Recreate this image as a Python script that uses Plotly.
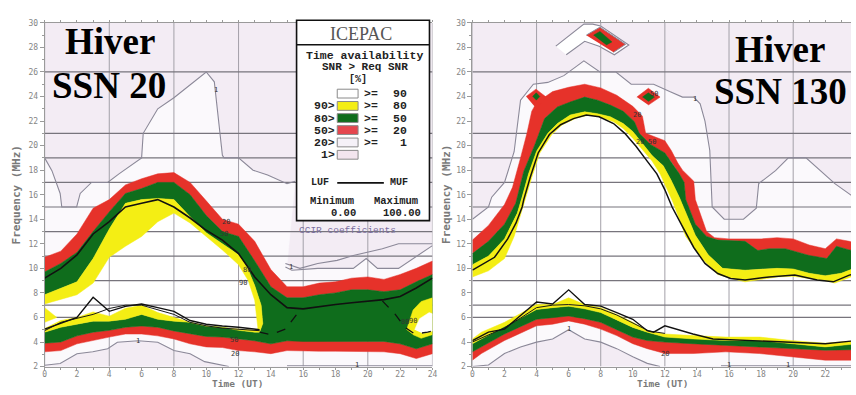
import plotly.graph_objects as go

# ---------------- shared axis data ----------------
HOURS = list(range(25))
GRID_X = [0, 4, 8, 12, 16, 20, 24]
GRID_Y = [6, 7, 9, 11, 13, 15, 17, 19, 21, 26]
X_TICKS = list(range(0, 25, 2))
Y_TICKS = list(range(2, 31, 2))

# ---------------- left chart : Hiver SSN 20 ----------------
L_R20_LO = [3.2, 3.3, 3.85, 4.15, 4.4, 4.65, 4.65, 4.5, 4.25, 3.85, 3.6, 3.55, 3.3, 3.2, 3.05, 3.3, 3.25, 3.25, 3.25, 3.25, 3.25, 3.2, 3.05, 2.65, 3.05]
L_G50_LO = [3.9, 4.0, 4.5, 4.8, 4.95, 5.2, 5.3, 5.2, 4.9, 4.65, 4.45, 4.4, 4.25, 4.1, 3.85, 4.1, 4.05, 4.05, 4.05, 4.05, 4.05, 4.05, 3.85, 3.45, 3.85]
L_G50_HI = [9.7, 10.4, 11.3, 13.0, 14.6, 16.1, 16.5, 17.0, 17.0, 16.0, 14.3, 13.0, 12.6, 10.6, 8.5, 7.6, 7.6, 7.85, 8.0, 8.25, 8.25, 8.1, 8.25, 8.9, 9.5]
L_R20_HI = [10.9, 11.4, 12.8, 14.9, 15.6, 16.8, 17.3, 17.7, 17.8, 17.0, 15.5, 14.0, 13.6, 12.2, 9.9, 8.5, 8.5, 8.8, 8.9, 9.2, 9.3, 9.1, 9.5, 10.0, 10.6]

L_Y80_X = [0, 1, 2, 3, 4, 5, 6, 7, 8, 9, 10, 11, 12, 12.5, 13, 13.4, 13.5, 13.3, 13, 12, 11, 10, 9, 8, 7, 6, 5, 4, 3, 2, 1, 0]
L_Y80_Y = [7.85, 8.4, 8.9, 10.8, 13.2, 15.3, 15.6, 15.7, 15.6, 14.2, 12.9, 12.0, 11.1, 10.2, 8.6, 7.0, 5.5, 4.8, 4.8, 4.95, 5.2, 5.3, 5.6, 5.7, 5.85, 6.25, 5.85, 5.7, 5.7, 5.45, 5.2, 4.8]
L_W90_X = [0, 1, 2, 3, 4, 5, 6, 7, 8, 9, 10, 11, 12, 12.6, 13.0, 13.2, 13.0, 12, 11, 10, 9, 8, 7, 6, 5, 4, 3, 2, 1, 0]
L_W90_Y = [7.1, 7.45, 7.85, 8.8, 10.9, 11.8, 12.6, 13.8, 14.5, 13.7, 12.6, 11.5, 10.3, 9.0, 7.4, 5.1, 4.95, 5.05, 5.15, 5.3, 5.6, 6.0, 6.4, 7.0, 6.75, 6.1, 6.45, 6.0, 5.75, 5.1]
L_WEDGE_X = [0, 0.75, 0]
L_WEDGE_Y = [5.6, 6.0, 6.8]
L_ISL_Y80_X = [22.4, 22.8, 23.3, 24, 24, 23.3, 22.8]
L_ISL_Y80_Y = [5.0, 6.6, 7.3, 7.6, 4.6, 4.3, 4.6]
L_ISL_W90_X = [22.9, 23.2, 23.8, 24, 24, 23.4]
L_ISL_W90_Y = [5.0, 5.9, 6.4, 6.3, 4.9, 4.7]

L_MUF = [9.2, 10.0, 11.1, 12.8, 13.8, 15.0, 15.3, 15.6, 15.0, 14.1, 13.1, 12.3, 11.2, 9.3, 7.85, 6.8, 6.7, 6.9, 7.05, 7.2, 7.3, 7.45, 7.7, 8.4, 9.2]
L_LUF_A_X = [0, 1, 2, 3, 4, 5, 6, 7, 8, 9, 10, 11, 12, 13.3]
L_LUF_A_Y = [5.05, 5.5, 6.0, 7.65, 6.5, 6.9, 7.1, 6.8, 6.5, 5.75, 5.45, 5.3, 5.2, 5.0]
L_LUF_B_X = [0, 1, 2, 3, 4, 5, 6, 7, 8, 9, 10, 11, 12, 13.3]
L_LUF_B_Y = [4.92, 5.6, 5.93, 6.25, 6.73, 7.0, 7.0, 6.65, 6.25, 5.6, 5.32, 5.13, 5.05, 4.92]
L_LUFD1_X = [13.3, 14.0, 14.9, 15.4, 15.9]
L_LUFD1_Y = [4.8, 4.6, 5.05, 5.95, 6.75]
L_LUFD2_X = [20.9, 21.7, 22.3, 22.9, 23.7, 24]
L_LUFD2_Y = [7.35, 6.25, 5.2, 4.65, 4.8, 4.9]

L_C1U_X = [0, 0.45, 0.96, 1.06, 1.98, 2.2, 2.9, 3.9, 4.6, 6.0, 6.1, 7.0, 8.0, 10.0, 10.5, 11.0, 11.1, 12.0, 12.9, 13.8, 15.0, 15.5]
L_C1U_Y = [19.0, 17.96, 16.1, 15.0, 15.0, 16.1, 17.0, 17.0, 17.7, 19.0, 21.0, 23.0, 23.9, 26.0, 25.2, 19.2, 19.0, 19.0, 18.0, 17.6, 16.9, 17.1]
L_C1L_X = [0, 0.96, 2.0, 2.98, 3.9, 4.5, 5.8, 7.0, 8.0, 9.0, 9.9, 10.9, 11.4]
L_C1L_Y = [2.1, 2.25, 3.05, 3.2, 3.45, 3.98, 4.1, 3.98, 3.3, 3.05, 2.4, 2.1, 2.0]
L_C1B_X = [15, 24]
L_C1B_Y = [2.07, 2.07]
L_C1R1_X = [14.9, 15.2, 15.8, 16.9, 18.1, 19.1, 19.9, 20.9, 21.9, 24]
L_C1R1_Y = [10.4, 10.25, 10.0, 10.4, 10.65, 11.05, 11.3, 11.6, 12.0, 12.0]
L_C1R2_X = [14.9, 15.3, 16.9, 19.1, 19.9, 20.6, 21.9, 24]
L_C1R2_Y = [10.1, 9.85, 10.0, 10.0, 10.8, 10.0, 10.0, 11.85]

L_LABELS = [("1", 10.6, 24.5), ("20", 11.2, 13.8), ("50", 11.1, 12.8), ("80", 12.5, 9.9),
            ("90", 12.3, 8.8), ("1", 5.75, 4.05), ("50", 11.7, 4.2), ("20", 11.8, 3.05),
            ("1", 15.25, 10.15), ("1", 19.3, 2.15), ("80", 22.3, 5.6), ("90", 22.8, 5.75)]

# ---------------- right chart : Hiver SSN 130 ----------------
R_R20_HI_X = [0, 1, 2, 2.5, 3, 3.4, 3.7, 4.0, 5, 6, 7, 8, 9, 10, 10.6, 10.8, 11.2, 12, 12.4, 12.8, 13.1, 13.8, 13.9, 14.6, 15.1, 16, 17, 18, 19, 20, 21, 22, 22.7, 23.5, 24]
R_R20_HI_Y = [12.3, 13.5, 15.2, 16.6, 19.0, 21.0, 22.8, 23.5, 24.4, 24.75, 25.0, 24.7, 24.1, 23.2, 22.4, 21.0, 20.8, 20.4, 19.6, 18.6, 18.0, 17.1, 15.6, 13.0, 12.5, 12.4, 12.4, 12.4, 12.5, 12.4, 11.9, 11.6, 12.4, 12.2, 12.0]
R_G50_HI_X = [0, 1, 2, 2.7, 3.2, 3.9, 4.5, 5.3, 6.1, 7, 7.8, 8.6, 9.4, 10.1, 10.4, 11.1, 12, 12.5, 12.9, 13.2, 13.3, 13.9, 14.6, 15.3, 17, 17.8, 18.5, 19.5, 21, 22.1, 22.7, 23.5, 24]
R_G50_HI_Y = [11.2, 12.2, 13.6, 15.3, 17.9, 20.1, 22.2, 23.15, 23.55, 23.95, 23.7, 23.3, 22.8, 21.95, 21.0, 20.1, 19.4, 18.5, 17.7, 17.0, 15.6, 13.6, 12.6, 12.3, 12.2, 11.45, 11.6, 11.6, 11.05, 10.8, 11.8, 11.5, 11.4]
R_Y80_HI_X = [0, 1, 2, 2.8, 3.1, 3.5, 4, 4.7, 5.3, 6.1, 7, 7.8, 8.6, 9.4, 10, 10.6, 11.2, 11.9, 12.4, 12.9, 13.3, 13.9, 14.7, 15.6, 17, 18, 19, 20, 21, 22, 23, 24]
R_Y80_HI_Y = [10.3, 11.0, 12.4, 14.5, 15.8, 17.7, 19.55, 21.0, 21.8, 22.5, 22.75, 22.6, 22.35, 21.8, 21.15, 20.2, 19.2, 18.35, 17.15, 15.8, 14.6, 12.7, 11.1, 10.0, 9.85, 9.95, 10.0, 9.95, 9.6, 9.4, 9.6, 10.1]
R_W90_HI_X = [0, 1, 2, 2.6, 3.0, 3.3, 3.7, 4.2, 4.95, 5.6, 6.5, 7.3, 7.9, 8.8, 9.4, 10, 10.6, 11.2, 11.7, 12.1, 12.5, 13.3, 14.35, 15.3, 16.4, 17, 18, 19, 20, 21, 22, 22.6, 23.6, 24]
R_W90_HI_Y = [9.3, 9.8, 10.8, 12.6, 14.2, 15.6, 17.4, 19.4, 20.9, 21.7, 22.25, 22.5, 22.35, 21.95, 21.4, 20.6, 19.7, 18.75, 17.7, 16.6, 15.4, 12.6, 10.75, 9.5, 9.1, 8.9, 9.1, 9.3, 9.35, 9.2, 9.0, 8.8, 9.3, 9.5]

R_LO_X = [0, 0.56, 2, 4, 5, 6, 7, 8, 9, 10, 10.9, 12, 13.75, 15.8, 17.9, 19.9, 22, 24]
R_R20_LO = [2.52, 3.06, 4.12, 5.32, 5.45, 5.72, 5.45, 5.05, 4.52, 3.86, 3.46, 3.06, 3.06, 3.2, 3.06, 2.8, 2.52, 2.52]
R_G50_LO = [3.2, 3.6, 4.65, 5.85, 6.0, 6.12, 5.9, 5.6, 5.0, 4.4, 4.12, 3.99, 3.86, 3.72, 3.6, 3.46, 3.33, 3.38]
R_Y80_LO = [3.86, 4.25, 5.32, 6.65, 6.8, 6.92, 6.7, 6.4, 5.8, 5.19, 4.8, 4.4, 4.25, 4.12, 4.12, 3.86, 3.6, 3.86]
R_W90_LO = [4.25, 4.8, 5.6, 7.05, 7.05, 7.6, 7.05, 6.8, 6.25, 5.6, 4.92, 4.65, 4.52, 4.4, 4.4, 4.12, 3.9, 4.12]

R_EAR_X = [3.35, 3.96, 4.6, 4.0]
R_EAR_Y = [24.0, 24.6, 23.95, 23.0]
R_EAR_IN_X = [3.75, 3.98, 4.2, 3.98]
R_EAR_IN_Y = [24.0, 24.3, 24.0, 23.7]
R_DIA2_X = [10.25, 10.97, 11.7, 10.97]
R_DIA2_Y = [23.95, 24.67, 23.95, 23.3]
R_DIA2_IN_X = [10.6, 10.97, 11.35, 10.97]
R_DIA2_IN_Y = [23.95, 24.3, 23.95, 23.6]
R_DIA1_X = [7.1, 7.95, 9.55, 8.8]
R_DIA1_Y = [29.0, 29.65, 28.25, 27.6]
R_DIA1_IN_X = [7.55, 7.95, 8.7, 8.35]
R_DIA1_IN_Y = [29.0, 29.3, 28.45, 28.2]
R_CHEV_X = [5.2, 6.95, 7.5, 8.0, 9.75, 8.85, 7.9, 7.0, 5.85]
R_CHEV_Y = [28.1, 29.9, 29.9, 29.75, 28.2, 27.4, 28.1, 28.5, 27.4]

R_MUF_X = [0, 0.56, 1.38, 2.2, 2.72, 3.1, 3.2, 3.6, 4.1, 4.8, 5.5, 6.3, 7.1, 7.9, 8.8, 9.5, 10.2, 10.8, 11.5, 12.0, 12.45, 13.1, 13.8, 14.5, 15.3, 16.1, 17, 18.5, 20.1, 21.5, 22.5, 23.5, 24]
R_MUF_Y = [9.85, 10.25, 10.9, 12.4, 13.7, 15.0, 15.6, 17.4, 19.4, 20.9, 21.7, 22.2, 22.5, 22.35, 21.8, 21.0, 19.95, 18.9, 17.7, 16.4, 15.0, 13.4, 11.7, 10.4, 9.58, 9.18, 9.05, 9.3, 9.45, 9.05, 8.9, 9.45, 9.6]
R_LUF_A_X = [0, 1, 2, 4, 5, 6, 7, 8, 9, 10, 10.9, 11.3, 12, 13.75, 15, 17.9, 19.9, 22, 24]
R_LUF_A_Y = [4.12, 4.8, 5.05, 7.26, 7.1, 8.25, 7.05, 6.92, 6.39, 5.85, 4.92, 4.8, 5.32, 4.65, 4.25, 4.07, 3.99, 3.86, 4.12]
R_LUF_B_X = [0, 1, 2, 3, 4, 5, 6, 7, 8, 9, 10, 11, 12]
R_LUF_B_Y = [4.0, 4.55, 5.15, 5.95, 6.8, 7.0, 7.05, 6.95, 6.7, 6.2, 5.55, 4.9, 4.7]

R_C1U_X = [0, 1.0, 1.2, 2.0, 2.6, 3.0, 3.8, 4.7, 5.7, 6.95, 7.95, 8.95, 9.9, 11.3, 12.3, 13.1, 13.8, 14.2, 14.5, 14.8, 14.95, 15.7, 16.9, 17.7, 17.85, 18.9, 19.7, 20.8, 22.6, 23.6, 24]
R_C1U_Y = [14.0, 15.0, 15.8, 17.0, 19.5, 23.7, 25.0, 25.15, 25.7, 26.9, 26.0, 26.0, 25.0, 25.0, 24.4, 23.95, 23.95, 23.4, 22.0, 19.6, 15.0, 14.0, 14.0, 14.9, 16.9, 17.96, 19.0, 19.0, 16.9, 16.0, 15.6]
R_C1L_X = [0, 1, 2, 3, 4, 5, 6, 7, 8, 9, 10, 10.9, 11.7]
R_C1L_Y = [2.0, 2.13, 3.06, 3.6, 3.99, 4.25, 5.0, 4.25, 3.99, 3.46, 2.8, 2.26, 2.0]
R_C1B_X = [15.5, 24]
R_C1B_Y = [2.07, 2.07]

R_LABELS = [("20", 10.25, 22.5), ("20", 10.45, 20.3), ("50", 11.2, 20.3), ("50", 11.3, 24.2),
            ("1", 13.9, 23.8), ("1", 6.0, 5.05), ("20", 12.0, 3.05), ("1", 16.0, 2.15), ("1", 19.7, 2.15)]

# legend content
LEG_LEFT = ["", "90>", "80>", "50>", "20>", "1>"]
LEG_RIGHT = ["90", "80", "50", "20", "1", ""]
LEG_MID = [">=", ">=", ">=", ">=", ">=", ""]

# ---------------- styles ----------------
BG = "#f3ecf4"
LIGHT = "#fbf9fc"
RED = "#e6322a"
GREEN = "#0f6d1c"
YELLOW = "#f4ee14"
GRAYLINE = "#8b8898"
W, H = 856, 395

fig = go.Figure()


def add_poly(xs, ys, fill, xa, ya, line=None, width=0.5):
    fig.add_trace(go.Scatter(x=list(xs), y=list(ys), xaxis=xa, yaxis=ya, fill="toself",
                             fillcolor=fill, mode="lines",
                             line=dict(color=line or fill, width=width),
                             hoverinfo="skip", showlegend=False))


def add_line(xs, ys, color, width, xa, ya, dash="solid"):
    fig.add_trace(go.Scatter(x=list(xs), y=list(ys), xaxis=xa, yaxis=ya, mode="lines",
                             line=dict(color=color, width=width, dash=dash),
                             hoverinfo="skip", showlegend=False))


def ring(xa_, ya_, xb_, yb_):
    return list(xa_) + list(xb_)[::-1], list(ya_) + list(yb_)[::-1]


def add_grid(xa, ya, xmax):
    gx, gy = [], []
    for g in GRID_X:
        gx += [g, g, None]
        gy += [2, 30, None]
    add_line(gx, gy, "#a3a0a8", 1, xa, ya)
    hx, hy = [], []
    for g in GRID_Y:
        hx += [0, xmax, None]
        hy += [g, g, None]
    add_line(hx, hy, "#77747c", 1.2, xa, ya)


# ======== LEFT CHART ========
xa, ya = "x", "y"
lx = L_C1U_X + [15.0] + L_C1R2_X[1:] + [24, 15] + L_C1L_X[::-1]
ly = L_C1U_Y + [10.3] + L_C1R2_Y[1:] + [2.07, 2.07] + L_C1L_Y[::-1]
add_poly(lx, ly, LIGHT, xa, ya)
add_poly(L_W90_X, L_W90_Y, "#ffffff", xa, ya)
add_grid(xa, ya, 24)
px_, py_ = ring(HOURS, L_R20_HI, HOURS, L_G50_HI)
add_poly(px_, py_, RED, xa, ya)
px_, py_ = ring(HOURS, L_R20_LO, HOURS, L_G50_LO)
add_poly(px_, py_, RED, xa, ya)
gx = HOURS + HOURS[::-1] + L_Y80_X
gy = L_G50_LO + L_G50_HI[::-1] + L_Y80_Y
add_poly(gx, gy, GREEN, xa, ya)
yx = L_Y80_X + L_W90_X[::-1]
yy = L_Y80_Y + L_W90_Y[::-1]
add_poly(yx, yy, YELLOW, xa, ya)
add_poly(L_WEDGE_X, L_WEDGE_Y, YELLOW, xa, ya)
add_poly(L_ISL_Y80_X, L_ISL_Y80_Y, YELLOW, xa, ya)
add_poly(L_ISL_W90_X, L_ISL_W90_Y, "#ffffff", xa, ya)
for cx, cy in [(L_C1U_X, L_C1U_Y), (L_C1L_X, L_C1L_Y), (L_C1B_X, L_C1B_Y),
               (L_C1R1_X, L_C1R1_Y), (L_C1R2_X, L_C1R2_Y)]:
    add_line(cx, cy, GRAYLINE, 1.1, xa, ya)
add_line(L_LUF_B_X, L_LUF_B_Y, "#1a1a1a", 1.0, xa, ya)
add_line(L_LUF_A_X, L_LUF_A_Y, "#111111", 1.4, xa, ya)
add_line(HOURS, L_MUF, "#111111", 1.6, xa, ya)
add_line(L_LUFD1_X, L_LUFD1_Y, "#111111", 1.3, xa, ya, "dash")
add_line(L_LUFD2_X, L_LUFD2_Y, "#111111", 1.3, xa, ya, "dash")

# ======== RIGHT CHART ========
xa, ya = "x2", "y2"
rx = R_C1U_X + [24] + R_C1B_X[::-1] + R_C1L_X[::-1]
ry = R_C1U_Y + [2.07] + R_C1B_Y[::-1] + R_C1L_Y[::-1]
add_poly(rx, ry, LIGHT, xa, ya)
add_poly(R_CHEV_X, R_CHEV_Y, "#ffffff", xa, ya, line=GRAYLINE, width=1.1)
px_, py_ = ring(R_LO_X, R_W90_LO, R_W90_HI_X, R_W90_HI_Y)
add_poly(px_, py_, "#ffffff", xa, ya)
add_grid(xa, ya, 24)
for (ax_, ay_, bx_, by_, col) in [
        (R_R20_HI_X, R_R20_HI_Y, R_G50_HI_X, R_G50_HI_Y, RED),
        (R_G50_HI_X, R_G50_HI_Y, R_Y80_HI_X, R_Y80_HI_Y, GREEN),
        (R_Y80_HI_X, R_Y80_HI_Y, R_W90_HI_X, R_W90_HI_Y, YELLOW),
        (R_LO_X, R_R20_LO, R_LO_X, R_G50_LO, RED),
        (R_LO_X, R_G50_LO, R_LO_X, R_Y80_LO, GREEN),
        (R_LO_X, R_Y80_LO, R_LO_X, R_W90_LO, YELLOW)]:
    px_, py_ = ring(ax_, ay_, bx_, by_)
    add_poly(px_, py_, col, xa, ya)
add_poly(R_EAR_X, R_EAR_Y, RED, xa, ya)
add_poly(R_EAR_IN_X, R_EAR_IN_Y, GREEN, xa, ya)
add_poly(R_DIA2_X, R_DIA2_Y, RED, xa, ya)
add_poly(R_DIA2_IN_X, R_DIA2_IN_Y, GREEN, xa, ya)
add_poly(R_DIA1_X, R_DIA1_Y, RED, xa, ya, line=GRAYLINE, width=1)
add_poly(R_DIA1_IN_X, R_DIA1_IN_Y, GREEN, xa, ya)
for cx, cy in [(R_C1U_X, R_C1U_Y), (R_C1L_X, R_C1L_Y), (R_C1B_X, R_C1B_Y)]:
    add_line(cx, cy, GRAYLINE, 1.1, xa, ya)
add_line(R_LUF_B_X, R_LUF_B_Y, "#1a1a1a", 1.0, xa, ya)
add_line(R_LUF_A_X, R_LUF_A_Y, "#111111", 1.4, xa, ya)
add_line(R_MUF_X, R_MUF_Y, "#111111", 1.5, xa, ya)

# ---------------- layout ----------------
tickfont = dict(family="DejaVu Sans Mono", size=8, color="#858585")
ydom = [(H - 371) / H, (H - 19.3) / H]


def xaxis_cfg(dom, rng):
    return dict(domain=dom, range=rng, tickvals=X_TICKS, ticks="outside", ticklen=2,
                tickcolor="#9a9a9a", tickfont=tickfont, showgrid=False, zeroline=False,
                showline=True, linecolor="#9a9a9a", linewidth=1, mirror="ticks",
                ticklabelstandoff=-2,
                minor=dict(dtick=1, tick0=0, ticks="outside", ticklen=2, tickcolor="#9a9a9a"),
                fixedrange=True)


def yaxis_cfg():
    return dict(domain=ydom, range=[2, 30], tickvals=Y_TICKS, ticks="outside", ticklen=4,
                tickcolor="#9a9a9a", tickfont=tickfont, showgrid=False, zeroline=False,
                showline=True, linecolor="#9a9a9a", linewidth=1,
                minor=dict(dtick=1, tick0=0, ticks="outside", ticklen=2, tickcolor="#9a9a9a"),
                fixedrange=True)


def P(x, y):
    return x / W, 1 - y / H


ann = []
shapes = []


def text(s, x, y, size, color="#111", family="Liberation Mono", xanchor="center", angle=0,
         yanchor="middle"):
    X, Y = P(x, y)
    ann.append(dict(text=s, x=X, y=Y, xref="paper", yref="paper", showarrow=False,
                    xanchor=xanchor, yanchor=yanchor, textangle=angle, borderpad=0,
                    font=dict(family=family, size=size, color=color)))


# big titles
text("<b>Hiver</b>", 108.5, 38, 37, "#000", "Liberation Serif")
text("<b>SSN 20</b>", 107.5, 83, 37, "#000", "Liberation Serif")
text("<b>Hiver</b>", 784, 46.5, 37, "#000", "Liberation Serif")
text("<b>SSN 130</b>", 853, 90, 37, "#000", "Liberation Serif", xanchor="right")

# axis titles
text("<b>Frequency (MHz)</b>", 15, 195, 11, "#7a7a7a", "DejaVu Sans Mono", angle=-90)
text("<b>Frequency (MHz)</b>", 448, 195, 11, "#7a7a7a", "DejaVu Sans Mono", angle=-90)
text("<b>Time (UT)</b>", 237, 395, 9.5, "#7a7a7a", "DejaVu Sans Mono", yanchor="bottom")
text("<b>Time (UT)</b>", 666, 395, 9.5, "#7a7a7a", "DejaVu Sans Mono", yanchor="bottom")

# contour labels
for s, hx, fy in L_LABELS:
    ann.append(dict(text=s, x=hx, y=fy, xref="x", yref="y", showarrow=False,
                    font=dict(family="DejaVu Sans Mono", size=7, color="#333")))
for s, hx, fy in R_LABELS:
    ann.append(dict(text=s, x=hx, y=fy, xref="x2", yref="y2", showarrow=False,
                    font=dict(family="DejaVu Sans Mono", size=7, color="#333")))

# legend box
x0, y0 = P(297, 16.7)
x1, y1 = P(431, 221.7)
shapes.append(dict(type="rect", xref="paper", yref="paper", x0=x0, y0=y0, x1=x1, y1=y1,
                   fillcolor="#ffffff", line=dict(color="#111", width=1.6), layer="above"))
sx0, sy = P(297, 41.7)
sx1, _ = P(431, 41.7)
shapes.append(dict(type="line", xref="paper", yref="paper", x0=sx0, y0=sy, x1=sx1, y1=sy,
                   line=dict(color="#111", width=1.6)))
text("ICEPAC", 362, 30.5, 18, "#555", "Liberation Serif")
text("<b>Time availability</b>", 365.5, 52.5, 11.5, "#222")
text("<b>SNR > Req SNR</b>", 366, 64, 11, "#222")
text("<b>[%]</b>", 359, 77.5, 10, "#222")
SW_COLORS = ["#ffffff", YELLOW, GREEN, "#e5464e", "#f5f1f8", "#f3e5ee"]
ROW_Y = [91.7, 104.3, 116.7, 129, 141.7, 154.3]
for i, ry_ in enumerate(ROW_Y):
    a, b = P(338, ry_ - 4.5)
    c, d = P(359, ry_ + 4.5)
    shapes.append(dict(type="rect", xref="paper", yref="paper", x0=a, y0=b, x1=c, y1=d,
                       fillcolor=SW_COLORS[i], line=dict(color="#8a8a8a", width=1)))
    if LEG_LEFT[i]:
        text("<b>" + LEG_LEFT[i] + "</b>", 336.5, ry_, 11.5, "#222", xanchor="right")
    if LEG_MID[i]:
        text("<b>" + LEG_MID[i] + "</b>", 372, ry_, 11.5, "#222")
    if LEG_RIGHT[i]:
        text("<b>" + LEG_RIGHT[i] + "</b>", 409, ry_, 11.5, "#222", xanchor="right")
text("<b>LUF</b>", 321, 183, 10, "#222")
text("<b>MUF</b>", 400, 183, 10, "#222")
a, b = P(338, 183)
c, _ = P(385, 183)
shapes.append(dict(type="line", xref="paper", yref="paper", x0=a, y0=b, x1=c, y1=b,
                   line=dict(color="#111", width=1.8)))
text("<b>Minimum</b>", 333, 202, 10.5, "#222")
text("<b>Maximum</b>", 397, 202, 10.5, "#222")
text("<b>0.00</b>", 358, 214, 10.5, "#222", xanchor="right")
text("<b>100.00</b>", 423, 214, 10.5, "#222", xanchor="right")
text("CCIR coefficients", 298, 232, 9.5, "#7b6fa0", xanchor="left")

fig.update_layout(
    width=W, height=H, autosize=False,
    margin=dict(l=0, r=0, t=0, b=0),
    paper_bgcolor="#ffffff", plot_bgcolor=BG,
    showlegend=False,
    xaxis=dict(xaxis_cfg([43 / W, 434 / W], [0, 24]), anchor="y"),
    yaxis=dict(yaxis_cfg(), anchor="x"),
    xaxis2=dict(xaxis_cfg([474.3 / W, 1.0], [0, (W - 474.3) / 16.17]), anchor="y2"),
    yaxis2=dict(yaxis_cfg(), anchor="x2"),
    annotations=ann, shapes=shapes,
)

fig.write_html("out.html", config={"displayModeBar": False},
               post_script="document.body.style.margin='0';document.body.style.overflow='hidden';")
